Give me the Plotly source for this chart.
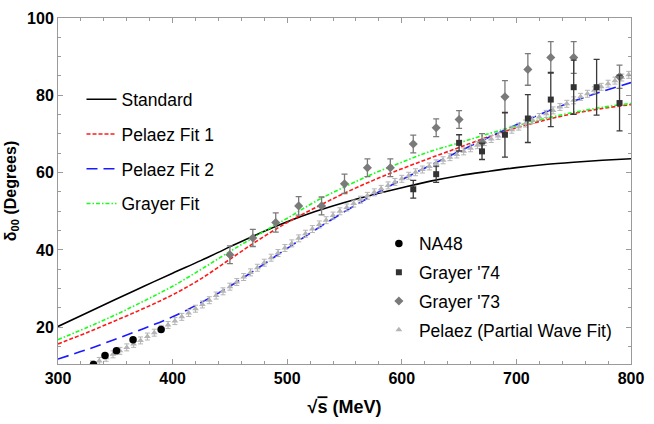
import plotly.graph_objects as go

# ---------------- data ----------------
curve_x = [300, 325, 350, 375, 400, 425, 450, 475, 500, 525, 550, 575, 600, 625, 650, 675, 700, 725, 750, 775, 800]
standard = [20.2, 23.7, 27.2, 30.6, 34.0, 37.3, 40.8, 44.2, 47.3, 50.0, 52.3, 54.3, 56.1, 57.8, 59.2, 60.3, 61.3, 62.1, 62.7, 63.2, 63.6]
pelaez_fit1 = [15.7, 18.6, 21.7, 24.9, 28.4, 32.6, 37.6, 42.6, 47.1, 51.0, 54.7, 58.0, 61.0, 63.8, 66.5, 69.2, 71.6, 73.6, 75.3, 76.6, 77.6]
pelaez_fit2 = [11.8, 14.2, 16.9, 19.7, 22.7, 26.4, 30.6, 35.4, 40.4, 45.3, 49.9, 54.2, 58.2, 61.9, 65.5, 69.0, 72.4, 75.6, 78.5, 81.0, 83.3]
grayer_fit = [16.8, 19.9, 23.2, 26.8, 30.6, 35.0, 39.6, 44.0, 48.2, 52.6, 56.3, 59.7, 62.7, 65.5, 67.7, 70.0, 72.1, 74.0, 75.6, 76.9, 77.9]

na48_x = [331, 341, 351, 365.5, 390]
na48_y = [10.4, 12.7, 13.9, 16.8, 19.4]

g74_x = [610, 630, 650, 670, 690, 710, 730, 750, 770, 790]
g74_y = [55.7, 59.6, 67.7, 65.5, 69.8, 74.0, 78.9, 82.1, 82.1, 78.0]
g74_err = [2.3, 2.1, 2.1, 2.1, 5.8, 6.2, 7.0, 7.0, 7.2, 7.2]

g73_x = [450, 470, 490, 510, 530, 550, 570, 590, 610, 630, 650, 670, 690, 710, 730, 750, 790]
g73_y = [38.75, 43.1, 47.1, 51.4, 51.4, 57.1, 61.25, 61.25, 67.4, 71.6, 73.75, 67.8, 79.6, 86.7, 89.8, 89.8, 84.8]
g73_err = [2.3, 2.2, 2.5, 2.4, 2.3, 2.5, 2.3, 2.3, 2.3, 2.3, 2.3, 2.3, 4.2, 4.1, 4.1, 4.1, 3.0]

pw_x = [330 + 6 * k for k in range(79)]
pw_y = [10.4, 11.3, 12.1, 13.0, 13.9, 14.8, 15.7, 16.6, 17.6, 18.6,
        19.6, 20.6, 21.6, 22.7, 23.7, 24.8, 25.9, 27.0, 28.2, 29.3,
        30.5, 31.7, 33.0, 34.2, 35.4, 36.7, 38.0, 39.2, 40.5, 41.7,
        43.0, 44.2, 45.4, 46.6, 47.7, 48.9, 50.0, 51.0, 52.0, 53.0,
        54.0, 54.9, 55.8, 56.7, 57.6, 58.4, 59.2, 60.1, 60.8, 61.6,
        62.4, 63.2, 64.0, 64.7, 65.5, 66.3, 67.1, 67.9, 68.7, 69.5,
        70.3, 71.1, 71.9, 72.7, 73.6, 74.4, 75.2, 76.1, 77.0, 77.8,
        78.7, 79.6, 80.4, 81.3, 82.2, 83.0, 83.8, 84.6, 85.3]
pw_err = [0.9] * len(pw_x)

x_ticks = [300, 400, 500, 600, 700, 800]
y_ticks = [20, 40, 60, 80, 100]

# ---------------- figure ----------------
FONT = "Liberation Sans, Arial, sans-serif"
fig = go.Figure()

def line_trace(y, name, color, dash, grp):
    return go.Scatter(x=curve_x, y=y, mode="lines", name=name,
                      line=dict(color=color, width=1.6, dash=dash, shape="spline"),
                      legend="legend", legendgroup=grp)

fig.add_trace(line_trace(standard, "Standard", "black", "solid", "a"))
fig.add_trace(line_trace(pelaez_fit1, "Pelaez Fit 1", "#ff1a1a", "4px,2px", "b"))
fig.add_trace(line_trace(pelaez_fit2, "Pelaez Fit 2", "#1a1aff", "11px,6px", "c"))
fig.add_trace(line_trace(grayer_fit, "Grayer Fit", "#1aff1a", "4px,2px,1.5px,2px", "d"))

fig.add_trace(go.Scatter(x=pw_x, y=pw_y, mode="markers", name="Pelaez (Partial Wave Fit)",
                         marker=dict(symbol="triangle-up", size=6, color="#b4b4b4"),
                         error_y=dict(type="data", array=pw_err, color="#b4b4b4", thickness=1, width=2.5),
                         legend="legend2", legendgroup="h", legendrank=4))
fig.add_trace(go.Scatter(x=g73_x, y=g73_y, mode="markers", name="Grayer '73",
                         marker=dict(symbol="diamond", size=7, color="#7a7a7a"),
                         error_y=dict(type="data", array=g73_err, color="#7a7a7a", thickness=1.3, width=3),
                         legend="legend2", legendgroup="g", legendrank=3))
fig.add_trace(go.Scatter(x=g74_x, y=g74_y, mode="markers", name="Grayer '74",
                         marker=dict(symbol="square", size=6, color="#333333"),
                         error_y=dict(type="data", array=g74_err, color="#3a3a3a", thickness=1.3, width=3),
                         legend="legend2", legendgroup="f", legendrank=2))
fig.add_trace(go.Scatter(x=na48_x, y=na48_y, mode="markers", name="NA48",
                         marker=dict(symbol="circle", size=7.5, color="black"),
                         legend="legend2", legendgroup="e", legendrank=1))

axis_common = dict(showline=True, linecolor="#9a9a9a", linewidth=1, mirror="ticks",
                   ticks="inside", ticklen=5, tickcolor="#9a9a9a", showgrid=False, zeroline=False,
                   tickfont=dict(family=FONT, size=16, color="black", weight="bold"))

fig.update_xaxes(range=[300, 800], tickvals=x_ticks, ticktext=[str(v) for v in x_ticks],
                 minor=dict(dtick=20, ticks="inside", ticklen=3, tickcolor="#9a9a9a", showgrid=False),
                 title=dict(text="<b>√<span style='text-decoration:overline'>s</span> (MeV)</b>",
                            font=dict(family=FONT, size=18, color="black"), standoff=14),
                 **axis_common)
fig.update_yaxes(range=[10.5, 100], tickvals=y_ticks, ticktext=[str(v) for v in y_ticks],
                 minor=dict(dtick=5, tick0=0, ticks="inside", ticklen=3, tickcolor="#9a9a9a", showgrid=False),
                 title=dict(text="<b>δ<sub>00</sub> (Degrees)</b>",
                            font=dict(family=FONT, size=16, color="black"), standoff=6),
                 **axis_common)

fig.update_layout(
    width=654, height=424,
    margin=dict(l=58, r=16, t=10, b=56),
    paper_bgcolor="white", plot_bgcolor="white",
    font=dict(family=FONT, color="black"),
    legend=dict(x=0.041, y=0.817, xanchor="left", yanchor="top", bgcolor="rgba(0,0,0,0)",
                font=dict(family=FONT, size=17.5, color="black"),
                traceorder="grouped", tracegroupgap=9, itemwidth=30),
    legend2=dict(x=0.56, y=0.40, xanchor="left", yanchor="top", bgcolor="rgba(0,0,0,0)",
                 font=dict(family=FONT, size=17.5, color="black"),
                 traceorder="grouped", tracegroupgap=3, itemwidth=30),
    showlegend=True,
)

fig.write_html("out.html", config={"displayModeBar": False},
               post_script="document.body.style.margin='0';document.body.style.padding='0';")
